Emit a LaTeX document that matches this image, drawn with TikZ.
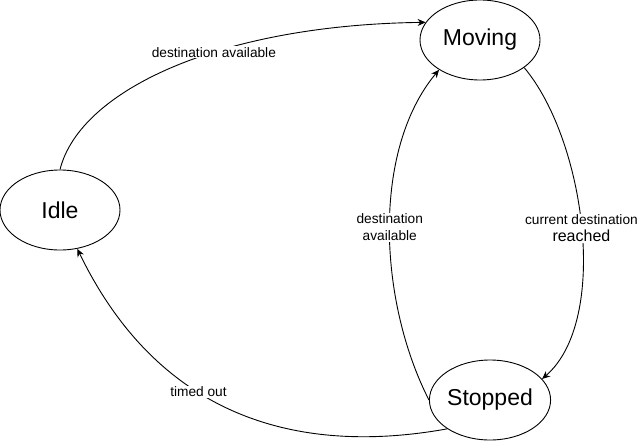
\documentclass[tikz,border=0pt]{standalone}
\usepackage{fontspec}
\setmainfont{Liberation Sans}
\usetikzlibrary{shapes.geometric,arrows.meta}
\begin{document}
\begin{tikzpicture}
  [x=1pt,y=-1pt,
   state/.style={ellipse,draw,line width=0.9pt,minimum width=120pt,minimum height=80pt,inner sep=0pt,font=\fontsize{23}{26}\selectfont},
   lbl/.style={fill=white,inner sep=1pt,align=center,font=\fontsize{13.7}{17}\selectfont},
   arr/.style={line width=0.9pt,-{Stealth[length=8pt,width=7pt]}}]
  \useasboundingbox (0,0) rectangle (644,441);
  \node (idle)[state] at (60,210) {Idle};
  \node (moving)[state] at (480,40) {Moving};
  \node (stopped)[state] at (490,400) {Stopped};
 \draw[arr] (idle.north) .. controls (80,90) and (220,25) .. (moving.162)
    node[lbl,pos=0.6] {destination available};
 \draw[arr] (moving.-32) .. controls (585,140) and (610,320) .. (stopped.22)
    node[lbl,pos=0.5] {current destination\\{\fontsize{16}{17}\selectfont reached}};
 \draw[arr] (stopped.west) .. controls (378,300) and (372,150) .. (moving.-144)
    node[lbl,pos=0.5] {destination\\available};
 \draw[arr] (stopped.-146) .. controls (330,450) and (170,440) .. (idle.-66)
    node[lbl,pos=0.64] {timed out};
\end{tikzpicture}
\end{document}
